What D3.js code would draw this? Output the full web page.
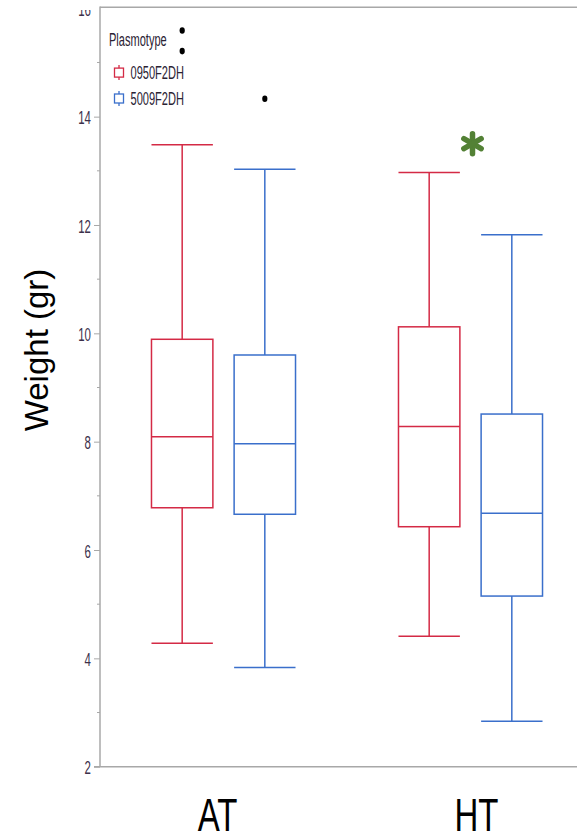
<!DOCTYPE html>
<html>
<head>
<meta charset="utf-8">
<script src="https://cdn.jsdelivr.net/npm/d3@7"></script>
<style>
  body { margin: 0; background: #fff; }
  svg { display: block; }
</style>
</head>
<body>
<div id="chart"></div>
<script>
(function () {

  // data
  var groups = ["AT", "HT"]
  var plasmotypes = ["0950F2DH", "5009F2DH"]
  var colors = ["#d42a45", "#3a6fcb"]

  // one row per box: [group, plasmotype, lowWhisker, q1, median, q3, highWhisker]
  var boxes = [
    ["AT", "0950F2DH", 4.28, 6.78, 8.09, 9.89, 13.48],
    ["AT", "5009F2DH", 3.83, 6.66, 7.96, 9.60, 13.03],
    ["HT", "0950F2DH", 4.41, 6.43, 8.28, 10.12, 12.97],
    ["HT", "5009F2DH", 2.84, 5.15, 6.68, 8.51, 11.82]
  ]

  var outliers = [
    ["AT", "0950F2DH", 15.59],
    ["AT", "0950F2DH", 15.21],
    ["AT", "5009F2DH", 14.33]
  ]

  var majorTicks = [2, 4, 6, 8, 10, 12, 14, 16]
  var minorTicks = [3, 5, 7, 9, 11, 13, 15]

  var width = 577,
      height = 833

  var svg = d3.select("#chart").append("svg")
      .attr("width", width)
      .attr("height", height)

  var yPositionScale = d3.scaleLinear()
    .domain([2, 16])
    .range([766.7, 8.3])

  var xGroupScale = d3.scaleBand()
    .domain(groups)
    .range([100, 594])

  var xInnerScale = d3.scaleBand()
    .domain(plasmotypes)
    .range([0, xGroupScale.bandwidth()])
    .paddingInner(0.257)
    .paddingOuter(0.623)

  var colorScale = d3.scaleOrdinal()
    .domain(plasmotypes)
    .range(colors)

  var left = xGroupScale.range()[0]
  var narrowFont = "'Liberation Sans Narrow', 'Liberation Sans', Arial, sans-serif"

  // frame: top line and x axis line
  svg.append("line")
    .attr("x1", left).attr("x2", width)
    .attr("y1", yPositionScale(16) - 1).attr("y2", yPositionScale(16) - 1)
    .attr("stroke", "#a8a8a8").attr("stroke-width", 1.5)

  svg.append("line")
    .attr("x1", left - 6).attr("x2", width)
    .attr("y1", yPositionScale(2)).attr("y2", yPositionScale(2))
    .attr("stroke", "#a8a8a8").attr("stroke-width", 1.5)

  // y axis, top label cut like the original
  svg.append("defs").append("clipPath")
    .attr("id", "ytop")
    .append("rect")
    .attr("x", -left).attr("y", 10).attr("width", left + 2).attr("height", height)

  var yAxis = d3.axisLeft(yPositionScale)
    .tickValues(majorTicks)
    .tickSize(6)
    .tickPadding(3)
    .tickFormat(d3.format("d"))

  var yAxisG = svg.append("g")
    .attr("class", "axis y-axis")
    .attr("transform", "translate(" + left + ",0)")
    .call(yAxis)

  yAxisG.select(".domain").remove()
  yAxisG.selectAll(".tick line").attr("stroke", "#a8a8a8")
  yAxisG.selectAll(".tick text")
    .attr("font-family", narrowFont)
    .attr("font-size", 14)
    .attr("fill", "#3b2f4a")
    .attr("dy", null)
    .attr("x", null)
    .attr("y", 0)
    .attr("transform", "translate(-9,7.2) scale(0.82,1.35)")
  yAxisG.attr("clip-path", "url(#ytop)")

  svg.append("line")
    .attr("x1", left).attr("x2", left)
    .attr("y1", yPositionScale(16) - 1.7).attr("y2", yPositionScale(2))
    .attr("stroke", "#a8a8a8").attr("stroke-width", 1.5)

  svg.append("g")
    .attr("transform", "translate(" + left + ",0)")
    .selectAll(".minor")
    .data(minorTicks)
    .enter().append("line")
    .attr("x1", -3).attr("x2", 0)
    .attr("y1", function (d) { return yPositionScale(d) })
    .attr("y2", function (d) { return yPositionScale(d) })
    .attr("stroke", "#a8a8a8")

  // y title
  svg.append("text")
    .attr("transform", "translate(48," + 350 + ") rotate(-90)")
    .attr("text-anchor", "middle")
    .attr("font-family", "'Liberation Sans', Arial, sans-serif")
    .attr("font-size", 33)
    .attr("fill", "#000")
    .text("Weight (gr)")

  // x labels
  svg.selectAll(".xlabel")
    .data(groups)
    .enter().append("text")
    .attr("class", "xlabel")
    .attr("text-anchor", "middle")
    .attr("font-family", "'Liberation Sans', Arial, sans-serif")
    .attr("font-size", 33)
    .attr("fill", "#000")
    .attr("transform", function (d, i) {
      var x = xGroupScale(d) + xGroupScale.bandwidth() / 2 + (i === 0 ? -6 : 6)
      return "translate(" + x + ",830.5) scale(1,1.4)"
    })
    .text(function (d) { return d })

  // boxes
  var bw = xInnerScale.bandwidth()

  var box = svg.selectAll(".box")
    .data(boxes)
    .enter().append("g")
    .attr("class", "box")
    .attr("transform", function (d) {
      return "translate(" + (xGroupScale(d[0]) + xInnerScale(d[1])) + ",0)"
    })
    .attr("stroke", function (d) { return colorScale(d[1]) })
    .attr("stroke-width", 1.5)
    .attr("fill", "none")

  // whiskers
  box.append("line")
    .attr("x1", bw / 2).attr("x2", bw / 2)
    .attr("y1", function (d) { return yPositionScale(d[6]) })
    .attr("y2", function (d) { return yPositionScale(d[5]) })
  box.append("line")
    .attr("x1", bw / 2).attr("x2", bw / 2)
    .attr("y1", function (d) { return yPositionScale(d[3]) })
    .attr("y2", function (d) { return yPositionScale(d[2]) })
  box.append("line")
    .attr("x1", 0).attr("x2", bw)
    .attr("y1", function (d) { return yPositionScale(d[6]) })
    .attr("y2", function (d) { return yPositionScale(d[6]) })
  box.append("line")
    .attr("x1", 0).attr("x2", bw)
    .attr("y1", function (d) { return yPositionScale(d[2]) })
    .attr("y2", function (d) { return yPositionScale(d[2]) })

  box.append("rect")
    .attr("x", 0).attr("width", bw)
    .attr("y", function (d) { return yPositionScale(d[5]) })
    .attr("height", function (d) { return yPositionScale(d[3]) - yPositionScale(d[5]) })
    .attr("fill", "#fff")

  box.append("line")
    .attr("x1", 0).attr("x2", bw)
    .attr("y1", function (d) { return yPositionScale(d[4]) })
    .attr("y2", function (d) { return yPositionScale(d[4]) })

  // outliers
  svg.selectAll(".outlier")
    .data(outliers)
    .enter().append("ellipse")
    .attr("class", "outlier")
    .attr("cx", function (d) { return xGroupScale(d[0]) + xInnerScale(d[1]) + bw / 2 })
    .attr("cy", function (d) { return yPositionScale(d[2]) })
    .attr("rx", 2.6)
    .attr("ry", 3.3)
    .attr("fill", "#000")

  // legend
  svg.append("text")
    .attr("transform", "translate(109,45.5) scale(0.82,1.4)")
    .attr("font-family", narrowFont)
    .attr("font-size", 13.5)
    .attr("fill", "#2a2233")
    .text("Plasmotype")

  var legendItem = svg.selectAll(".legend")
    .data(plasmotypes)
    .enter().append("g")
    .attr("class", "legend")
    .attr("transform", function (d, i) { return "translate(119," + (72.6 + i * 25.9) + ")" })

  legendItem.append("line")
    .attr("x1", 0).attr("x2", 0).attr("y1", -7.5).attr("y2", 7.5)
    .attr("stroke", function (d) { return colorScale(d) })
    .attr("stroke-width", 1.3)
  legendItem.append("rect")
    .attr("x", -4.5).attr("y", -4.5).attr("width", 9).attr("height", 9)
    .attr("fill", "#fff")
    .attr("stroke", function (d) { return colorScale(d) })
    .attr("stroke-width", 1.3)
  legendItem.append("text")
    .attr("transform", "translate(11.5,6.8) scale(0.82,1.4)")
    .attr("font-family", narrowFont)
    .attr("font-size", 13.5)
    .attr("fill", "#2a2233")
    .text(function (d) { return d })

  // significance asterisk over HT
  var starX = xGroupScale("HT") + xGroupScale.bandwidth() / 2 + 2,
      starY = yPositionScale(13.5)
  svg.append("g")
    .attr("transform", "translate(" + starX + "," + starY + ")")
    .selectAll("line")
    .data([90, 30, 150])
    .enter().append("line")
    .attr("x1", function (a) { return -10 * Math.cos(a * Math.PI / 180) })
    .attr("y1", function (a) { return -10 * Math.sin(a * Math.PI / 180) })
    .attr("x2", function (a) { return 10 * Math.cos(a * Math.PI / 180) })
    .attr("y2", function (a) { return 10 * Math.sin(a * Math.PI / 180) })
    .attr("stroke", "#538135")
    .attr("stroke-width", 5.5)
    .attr("stroke-linecap", "round")

})()
</script>
</body>
</html>
